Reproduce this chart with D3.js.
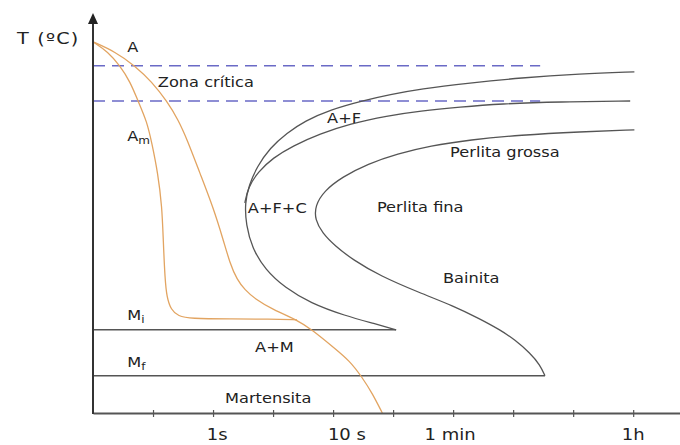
<!DOCTYPE html>
<html>
<head>
<meta charset="utf-8">
<script src="https://cdn.jsdelivr.net/npm/d3@7"></script>
<style>
  html, body { margin: 0; padding: 0; background: #fff; }
  svg { display: block; }
  text { font-family: "DejaVu Sans", Verdana, sans-serif; fill: #222; }
</style>
</head>
<body>
<svg id="chart" width="680" height="445"></svg>
<script>
// Time axis: schematic log-time index; ticks and their labels
const timeTicks = [1, 2, 3, 4, 5, 6, 7, 8, 9];
const timeLabels = ["1s", "10 s", "1 min", "1h"];
const timeLabelAt = [2.07, 4.23, 5.95, 9.0];

// Temperatures (°C) of the critical zone limits and martensite start / finish
const criticalTemps = [868, 780];
const criticalEnd = 7.45;
const msTemp = 208, msEnd = 5.05;
const mfTemp = 93, mfEnd = 7.53;

// Cooling curves [time index, °C]
const fastCooling = [
  [0, 928], [0.25, 903], [0.45, 868], [0.62, 828], [0.75, 780], [0.90, 728],
  [0.98, 675], [1.08, 600], [1.15, 515], [1.17, 433], [1.20, 333], [1.23, 290],
  [1.30, 258], [1.42, 242], [1.62, 236], [2.28, 235], [2.95, 235], [3.40, 233]
];
const slowCooling = [
  [0, 928], [0.37, 903], [0.70, 868], [0.98, 828], [1.23, 780], [1.42, 733],
  [1.57, 683], [1.78, 600], [2.00, 515], [2.17, 433], [2.28, 375], [2.40, 333],
  [2.53, 308], [2.70, 285], [3.00, 258], [3.40, 233], [3.65, 208], [4.00, 165],
  [4.28, 130], [4.48, 90], [4.65, 50], [4.82, 0]
];

// Transformation curves [time index, °C]
const startCurve = [
  [9.02, 853], [8.12, 848], [7.12, 838], [6.28, 825], [5.45, 810], [4.95, 796],
  [4.50, 781], [3.95, 758], [3.53, 730], [3.23, 700], [2.95, 663], [2.73, 615],
  [2.60, 570], [2.53, 525], [2.55, 470], [2.65, 413], [2.87, 358], [3.20, 313],
  [3.62, 275], [4.20, 243], [4.70, 223], [5.05, 208]
];
const ferriteCurve = [
  [8.95, 780], [7.78, 778], [6.78, 773], [6.12, 765], [5.45, 755], [4.90, 743],
  [4.28, 723], [3.78, 698], [3.33, 668], [3.00, 638], [2.75, 603], [2.58, 563],
  [2.53, 525]
];
const endCurve = [
  [9.02, 708], [8.12, 703], [7.12, 695], [6.28, 683], [5.62, 668], [5.07, 648],
  [4.58, 623], [4.15, 590], [3.85, 555], [3.70, 518], [3.70, 483], [3.82, 450],
  [4.03, 418], [4.33, 383], [4.78, 343], [5.45, 300], [6.00, 268], [6.45, 235],
  [6.78, 208], [7.03, 183], [7.28, 150], [7.45, 120], [7.53, 93]
];

// Region names: [text, subscript, time index, °C]
const regionLabels = [
  ["A", "", 0.57, 903],
  ["Zona crítica", "", 1.08, 815],
  ["A+F", "", 3.90, 725],
  ["A", "m", 0.57, 680],
  ["Perlita grossa", "", 5.95, 640],
  ["A+F+C", "", 2.58, 500],
  ["Perlita fina", "", 4.73, 503],
  ["Bainita", "", 5.83, 325],
  ["M", "i", 0.57, 233],
  ["A+M", "", 2.70, 153],
  ["M", "f", 0.57, 115],
  ["Martensita", "", 2.20, 25]
];

const svg = d3.select("#chart");
const x = d3.scaleLinear().domain([0, 9.78]).range([93, 680]);
const y = d3.scaleLinear().domain([0, 1000]).range([413, 13]);
const stretch = 1.2;

const line = d3.line().x(d => x(d[0])).y(d => y(d[1])).curve(d3.curveBasis);

// critical zone dashed limits
svg.selectAll(".crit").data(criticalTemps).join("line")
  .attr("x1", x(0)).attr("x2", x(criticalEnd))
  .attr("y1", d => y(d)).attr("y2", d => y(d))
  .attr("stroke", "#6a6ac6").attr("stroke-width", 1.5)
  .attr("stroke-dasharray", "12,7");

// Ms / Mf horizontals
svg.selectAll(".mline").data([[msTemp, msEnd], [mfTemp, mfEnd]]).join("line")
  .attr("x1", x(0)).attr("x2", d => x(d[1]))
  .attr("y1", d => y(d[0])).attr("y2", d => y(d[0]))
  .attr("stroke", "#555").attr("stroke-width", 1.4);

// transformation curves
svg.selectAll(".ttt").data([startCurve, ferriteCurve, endCurve]).join("path")
  .attr("d", line).attr("fill", "none")
  .attr("stroke", "#555").attr("stroke-width", 1.3);

// cooling curves
svg.selectAll(".cool").data([fastCooling, slowCooling]).join("path")
  .attr("d", line).attr("fill", "none")
  .attr("stroke", "#e2a461").attr("stroke-width", 1.3);

// x axis
const xAxis = svg.append("g").attr("transform", `translate(0,${y(0)})`)
  .call(d3.axisBottom(x).tickValues(timeTicks).tickFormat("").tickSizeInner(4).tickSizeOuter(0));
xAxis.select(".domain").attr("stroke", "#555").attr("stroke-width", 2);
xAxis.selectAll(".tick line").attr("y1", -3).attr("stroke", "#555").attr("stroke-width", 1.2);

svg.selectAll(".tlabel").data(timeLabels).join("text")
  .attr("transform", (d, i) => `translate(${x(timeLabelAt[i])},440) scale(${stretch},1)`)
  .attr("text-anchor", "middle").attr("font-size", 15)
  .text(d => d);

// y axis with arrow
svg.append("line")
  .attr("x1", x(0)).attr("x2", x(0)).attr("y1", y(0) + 1).attr("y2", y(1000) + 6)
  .attr("stroke", "#333").attr("stroke-width", 2);
svg.append("path")
  .attr("d", d3.line()([[x(0), y(1000)], [x(0) - 5, y(1000) + 11], [x(0) + 5, y(1000) + 11]]) + "Z")
  .attr("fill", "#222");

svg.append("text")
  .attr("transform", `translate(17,44) scale(${stretch},1)`)
  .attr("font-size", 16).attr("letter-spacing", 1)
  .text("T (ºC)");

// region names
const lbl = svg.selectAll(".region").data(regionLabels).join("text")
  .attr("transform", d => `translate(${x(d[2])},${y(d[3])}) scale(${stretch},1)`)
  .attr("font-size", 13.5);
lbl.append("tspan").text(d => d[0]);
lbl.filter(d => d[1]).append("tspan")
  .attr("font-size", 10).attr("dy", 3).text(d => d[1]);
</script>
</body>
</html>
